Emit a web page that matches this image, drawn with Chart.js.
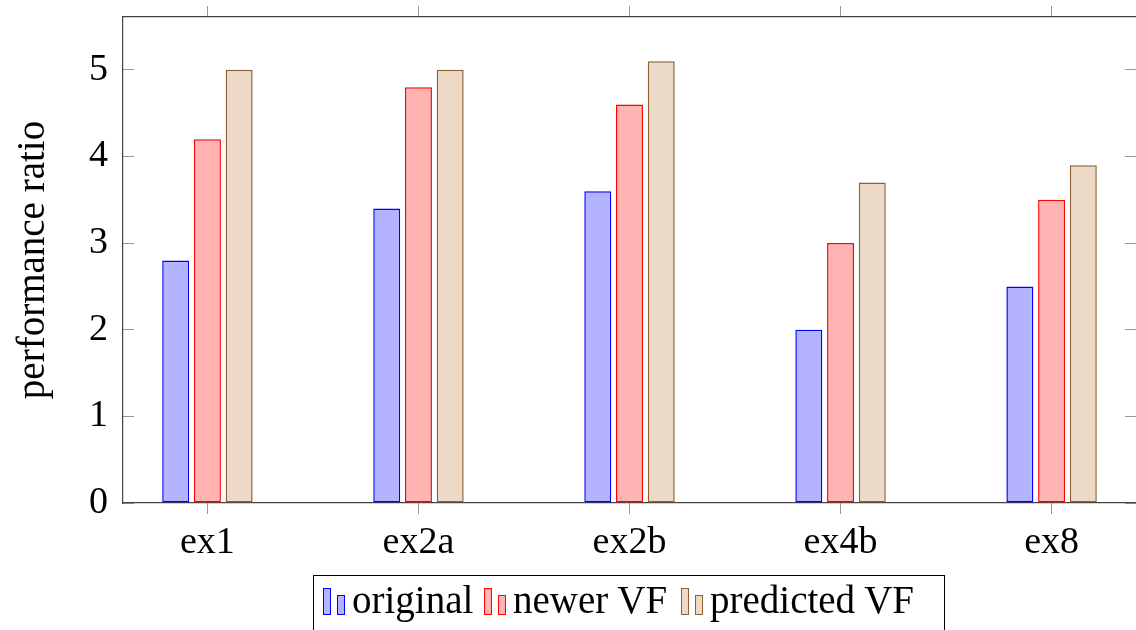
<!DOCTYPE html>
<html>
<head>
<meta charset="utf-8">
<script src="https://cdn.jsdelivr.net/npm/chart.js@4"></script>
<style>
    html, body { margin: 0; padding: 0; background: #fff; }
    #wrap { position: relative; width: 1136px; height: 630px; overflow: hidden; }
    #legend {
        position: absolute; left: 313px; top: 575px; width: 630px; height: 70px;
        border: 1px solid #000; font-family: "Liberation Serif", serif; font-size: 39px;
        color: #000; white-space: nowrap;
    }
    #legend .item { position: absolute; top: 3px; line-height: 42px; }
    #legend .icon { display: inline-block; position: relative; width: 26px; height: 27px; margin-right: 3px; vertical-align: -2px; }
    #legend .icon i { position: absolute; bottom: 0; width: 6px; border: 1px solid; }
    #legend .icon i.tall { left: 0; height: 25px; }
    #legend .icon i.short { left: 14px; height: 18px; }
</style>
</head>
<body>
<div id="wrap">
    <canvas id="chart" width="1136" height="630"></canvas>
    <div id="legend"></div>
</div>
<script>
    // chart data
    const categories = ['ex1', 'ex2a', 'ex2b', 'ex4b', 'ex8'];
    const original = [2.8, 3.4, 3.6, 2.0, 2.5];
    const newerVF = [4.2, 4.8, 4.6, 3.0, 3.5];
    const predictedVF = [5.0, 5.0, 5.1, 3.7, 3.9];
    const yTicks = [0, 1, 2, 3, 4, 5];

    const seriesNames = ['original', 'newer VF', 'predicted VF'];
    const fills = ['rgb(179,179,255)', 'rgb(255,179,179)', 'rgb(236,217,198)'];
    const strokes = ['rgb(0,0,255)', 'rgb(255,0,0)', 'rgb(140,95,52)'];
    const legendLeft = [9, 170, 367];

    const fontFamily = '"Liberation Serif", serif';
    const toPoints = (values) => values.map((v, i) => ({ x: i, y: v }));

    const datasets = [original, newerVF, predictedVF].map((values, i) => ({
        label: seriesNames[i],
        data: toPoints(values),
        backgroundColor: fills[i],
        borderColor: strokes[i],
        borderWidth: 1.5,
        borderSkipped: false,
        categoryPercentage: 0.451,
        barPercentage: 0.85
    }));

    // ticks only where the categories / values are
    const categoryTicks = (scale) => {
        scale.ticks = categories.map((c, i) => ({ value: i }));
    };
    const valueTicks = (scale) => {
        scale.ticks = yTicks.map((v) => ({ value: v }));
    };
    // fixed box sizes so the plot area sits where the reference has it
    const fixHeight = (h) => (s) => { s.height = h; s.paddingLeft = 0; s.paddingRight = 0; };
    const fixWidth = (w) => (s) => { s.width = w; s.paddingTop = 0; s.paddingBottom = 0; };

    const ctx = document.getElementById('chart').getContext('2d');
    new Chart(ctx, {
        type: 'bar',
        data: { datasets: datasets },
        options: {
            responsive: false,
            animation: false,
            layout: { padding: 0 },
            plugins: { legend: { display: false }, tooltip: { enabled: false } },
            scales: {
                x: {
                    type: 'linear',
                    position: 'bottom',
                    offset: false,
                    min: -0.4,
                    max: 4.4,
                    afterBuildTicks: categoryTicks,
                    afterFit: fixHeight(127),
                    ticks: {
                        callback: (v) => categories[v],
                        color: '#000',
                        font: { family: fontFamily, size: 38 },
                        padding: 6,
                        maxRotation: 0
                    },
                    grid: { offset: false, drawOnChartArea: false, drawTicks: true, tickLength: 11, color: '#999', lineWidth: 1 },
                    border: { display: true, color: '#444', width: 1.2 }
                },
                xTop: {
                    type: 'linear',
                    position: 'top',
                    offset: false,
                    min: -0.4,
                    max: 4.4,
                    afterBuildTicks: categoryTicks,
                    afterFit: fixHeight(17),
                    ticks: { display: false },
                    grid: { offset: false, drawOnChartArea: false, drawTicks: true, tickLength: 11, color: '#999', lineWidth: 1 },
                    border: { display: true, color: '#444', width: 1.2 }
                },
                y: {
                    position: 'left',
                    min: 0,
                    max: 5.61,
                    afterBuildTicks: valueTicks,
                    afterFit: fixWidth(123),
                    ticks: {
                        color: '#000',
                        font: { family: fontFamily, size: 38 },
                        padding: 26
                    },
                    title: {
                        display: true,
                        text: 'performance ratio',
                        color: '#000',
                        font: { family: fontFamily, size: 39 },
                        padding: { top: 10, bottom: 0 }
                    },
                    grid: { drawOnChartArea: false, drawTicks: true, tickLength: -11, color: '#999', lineWidth: 1 },
                    border: { display: true, color: '#444', width: 1.2 }
                },
                yRight: {
                    position: 'right',
                    min: 0,
                    max: 5.61,
                    afterBuildTicks: valueTicks,
                    afterFit: fixWidth(0),
                    ticks: { display: false },
                    grid: { drawOnChartArea: false, drawTicks: true, tickLength: -11, color: '#999', lineWidth: 1 },
                    border: { display: false }
                }
            }
        }
    });

    // legend box like pgfplots ybar legend
    const legend = document.getElementById('legend');
    seriesNames.forEach((name, i) => {
        const item = document.createElement('span');
        item.className = 'item';
        item.style.left = legendLeft[i] + 'px';
        const icon = document.createElement('span');
        icon.className = 'icon';
        ['tall', 'short'].forEach((k) => {
            const bar = document.createElement('i');
            bar.className = k;
            bar.style.background = fills[i];
            bar.style.borderColor = strokes[i];
            icon.appendChild(bar);
        });
        item.appendChild(icon);
        item.appendChild(document.createTextNode(name));
        legend.appendChild(item);
    });
</script>
</body>
</html>
